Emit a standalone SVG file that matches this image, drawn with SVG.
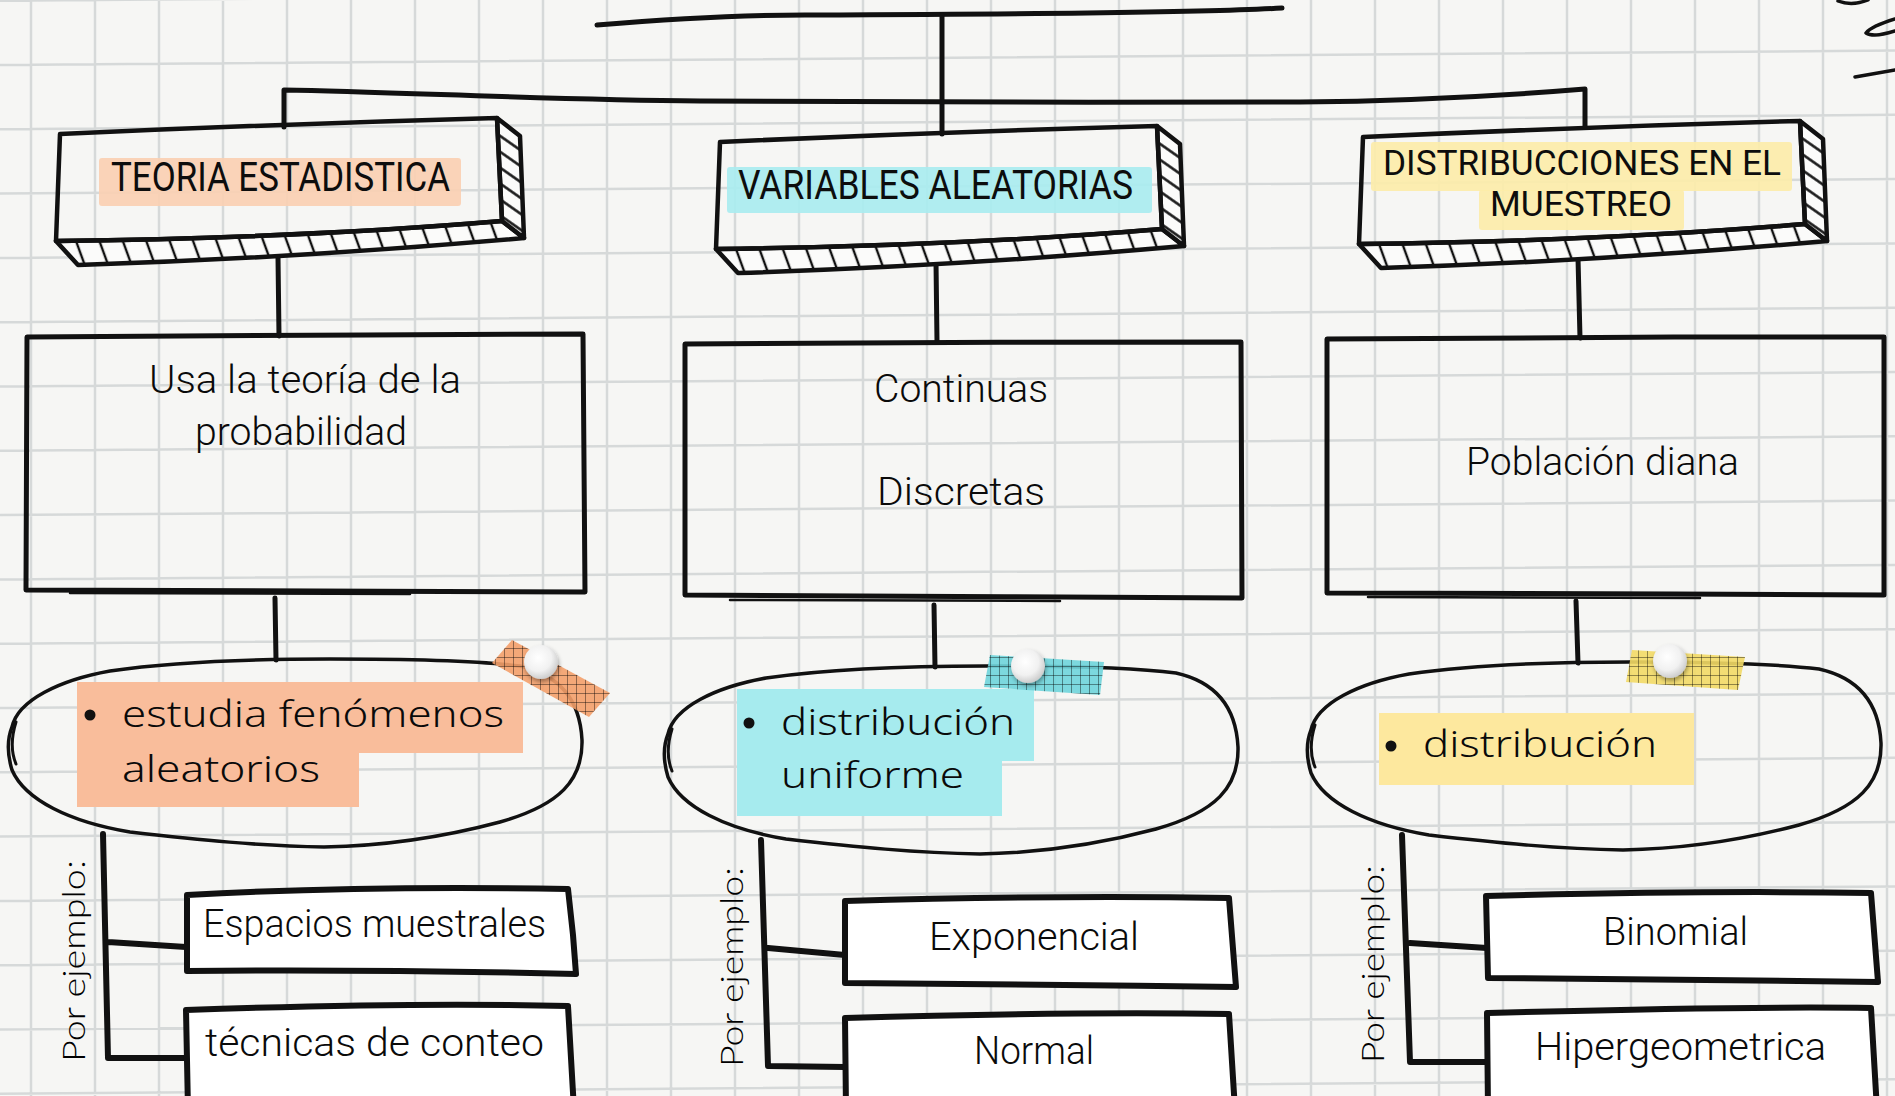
<svg xmlns="http://www.w3.org/2000/svg" xmlns:xlink="http://www.w3.org/1999/xlink" width="1895" height="1096" viewBox="0 0 1895 1096">
<style>
.ink{fill:none;stroke:#111;stroke-linecap:round;stroke-linejoin:round}
.head{font-family:Roboto,"Liberation Sans",sans-serif;font-weight:400;font-size:40px;fill:#0d0d0d}
.head2{font-family:Roboto,"Liberation Sans",sans-serif;font-weight:400;font-size:35px;fill:#0d0d0d}
.body{font-family:Roboto,"Liberation Sans",sans-serif;font-weight:300;font-size:38px;fill:#0a0a0a}
.hand{font-family:"Noto Sans","DejaVu Sans",sans-serif;font-weight:300;font-size:36px;fill:#0a0a0a}
.por{font-family:Lato,"Noto Sans",sans-serif;font-weight:300;font-size:32px;fill:#000}
.ex{fill:#fff;stroke:#111;stroke-width:6;stroke-linejoin:round}
.big{fill:none;stroke:#111;stroke-width:5;stroke-linejoin:round}
</style>
<defs>
<pattern id="hatchB" patternUnits="userSpaceOnUse" width="22" height="60" patternTransform="rotate(-20)">
<rect width="22" height="60" fill="#fbfbfa"/>
<line x1="11" y1="-5" x2="11" y2="65" stroke="#111" stroke-width="2.4"/>
</pattern>
<pattern id="hatchR" patternUnits="userSpaceOnUse" width="60" height="13" patternTransform="rotate(35)">
<rect width="60" height="13" fill="#fbfbfa"/>
<line x1="-5" y1="6.5" x2="65" y2="6.5" stroke="#111" stroke-width="2.3"/>
</pattern>
<pattern id="tapegrid" patternUnits="userSpaceOnUse" width="9" height="9">
<path d="M0,0.5H9M0.5,0V9" stroke="#000" stroke-opacity="0.45" stroke-width="0.9" fill="none"/>
</pattern>
<radialGradient id="pinG" cx="0.42" cy="0.38" r="0.65">
<stop offset="0" stop-color="#ffffff"/>
<stop offset="0.6" stop-color="#f1f1f1"/>
<stop offset="1" stop-color="#c9c9c9"/>
</radialGradient>
<filter id="sh" x="-50%" y="-50%" width="200%" height="200%">
<feDropShadow dx="1" dy="3" stdDeviation="2" flood-color="#000" flood-opacity="0.35"/>
</filter>
<g id="slab">
<path d="M56,241 Q300,238 502,221 L524,238 Q300,258 78,265 Z" fill="url(#hatchB)" stroke="#111" stroke-width="4.5" stroke-linejoin="round"/>
<path d="M497,118 L520,136 L524,238 L502,221 Z" fill="url(#hatchR)" stroke="#111" stroke-width="4.5" stroke-linejoin="round"/>
<path d="M60,134 Q280,124 497,118 L502,221 Q300,238 56,241 Z" class="ink" stroke-width="4.5"/>
</g>
<g id="oval">
<path d="M12,727 C18,700 60,680 110,671 C180,661 260,659 330,659 C420,659 480,661 520,666 C560,675 580,700 582,740 C583,780 560,805 500,822 C440,838 380,846 324,847 C260,846 200,840 130,832 C70,822 25,800 12,770 C6,750 8,737 12,727 Z" class="ink" stroke-width="3.5"/>
<path d="M16,722 C11,738 11,752 16,764" class="ink" stroke-width="3"/>
</g>
</defs>

<rect width="1895" height="1096" fill="#f6f6f4"/>
<path id="grid" fill="none" stroke="#d6d9d9" stroke-width="2.5" d="M31,0V1096M95,0V1096M159,0V1096M223,0V1096M287,0V1096M351,0V1096M415,0V1096M479,0V1096M543,0V1096M607,0V1096M671,0V1096M735,0V1096M799,0V1096M863,0V1096M927,0V1096M991,0V1096M1055,0V1096M1119,0V1096M1183,0V1096M1247,0V1096M1311,0V1096M1375,0V1096M1439,0V1096M1503,0V1096M1567,0V1096M1631,0V1096M1695,0V1096M1759,0V1096M1823,0V1096M1887,0V1096
M0,0.7L1895,-13.8M0,65L1895,50.5M0,129.3L1895,114.8M0,193.6L1895,179.1M0,257.9L1895,243.4M0,322.2L1895,307.7M0,386.5L1895,372M0,450.8L1895,436.3M0,515.1L1895,500.6M0,579.4L1895,564.9M0,643.7L1895,629.2M0,708L1895,693.5M0,772.3L1895,757.8M0,836.6L1895,822.1M0,900.9L1895,886.4M0,965.2L1895,950.7M0,1029.5L1895,1015M0,1093.8L1895,1079.3"/>

<g id="scribbles" class="ink" stroke-width="3.5">
<path d="M1838,1 C1848,5 1858,4 1868,0"/>
<path d="M1895,19 C1882,23 1870,28 1866,33 C1872,37 1886,34 1895,31"/>
<path d="M1855,77 L1895,70"/>
</g>

<g id="connectors" class="ink" stroke-width="5">
<path d="M597,25 C680,18 740,15 805,15 C1000,14 1200,13 1282,8"/>
<path d="M942,15 L942,134"/>
<path d="M284,127 L284,90 C400,92 550,100 700,101 C850,103 1100,102 1300,102 C1400,101 1500,96 1585,89 L1585,127"/>
<path d="M278,257 L279,336"/>
<path d="M936,262 L937,342"/>
<path d="M1578,258 L1580,338"/>
<path d="M275,598 L276,660"/>
<path d="M934,605 L935,667"/>
<path d="M1576,601 L1578,663"/>
<path d="M103,834 L108,1058 L186,1058 M108,942 L186,947" stroke-width="6"/>
<path d="M761,840 L768,1066 L845,1067 M768,948 L845,955" stroke-width="6"/>
<path d="M1402,835 L1410,1062 L1487,1062 M1410,943 L1487,948" stroke-width="6"/>
</g>

<g id="teoria">
<use href="#slab" xlink:href="#slab"/>
<rect x="99" y="158" width="362" height="48" rx="3" fill="#fbcfb1" fill-opacity="0.9"/>
<text class="head" x="111" y="191" textLength="339" lengthAdjust="spacingAndGlyphs">TEORIA ESTADISTICA</text>
</g>
<g id="variables">
<use href="#slab" xlink:href="#slab" transform="translate(660,8)"/>
<rect x="727" y="167" width="425" height="46" rx="3" fill="#a9ecef" fill-opacity="0.9"/>
<text class="head" x="738" y="199" textLength="395" lengthAdjust="spacingAndGlyphs">VARIABLES ALEATORIAS</text>
</g>
<g id="distribucciones">
<use href="#slab" xlink:href="#slab" transform="translate(1303,3)"/>
<rect x="1371" y="142" width="421" height="49" rx="3" fill="#fdeca8" fill-opacity="0.9"/>
<rect x="1479" y="190" width="205" height="40" rx="3" fill="#fdeca8" fill-opacity="0.9"/>
<text class="head2" x="1383" y="175" textLength="398" lengthAdjust="spacingAndGlyphs">DISTRIBUCCIONES EN EL</text>
<text class="head2" x="1490" y="216" textLength="182" lengthAdjust="spacingAndGlyphs">MUESTREO</text>
</g>

<g id="rect-teoria">
<path class="big" d="M27,337 C200,335 400,335 583,334 L585,592 C400,591 200,591 26,590 Z"/>
<path class="ink" stroke-width="2.5" d="M70,593 L410,594"/>
<text class="body" x="149" y="393" textLength="312" lengthAdjust="spacingAndGlyphs">Usa la teoría de la</text>
<text class="body" x="195" y="445" textLength="212" lengthAdjust="spacingAndGlyphs">probabilidad</text>
</g>
<g id="rect-variables">
<path class="big" d="M685,344 C860,342 1060,342 1241,342 L1242,598 C1060,597 860,596 685,595 Z"/>
<path class="ink" stroke-width="2.5" d="M730,600 L1060,601"/>
<text class="body" x="874" y="402" textLength="174" lengthAdjust="spacingAndGlyphs">Continuas</text>
<text class="body" x="877" y="505" textLength="168" lengthAdjust="spacingAndGlyphs">Discretas</text>
</g>
<g id="rect-distrib">
<path class="big" d="M1327,339 C1500,337 1700,337 1884,337 L1884,595 C1700,594 1500,593 1327,593 Z"/>
<path class="ink" stroke-width="2.5" d="M1368,597 L1700,598"/>
<text class="body" x="1466" y="475" textLength="273" lengthAdjust="spacingAndGlyphs">Población diana</text>
</g>

<g id="oval-teoria">
<use href="#oval" xlink:href="#oval"/>
<path d="M77,682 H523 V753 H359 V807 H77 Z" fill="#f9bd9b"/>
<circle cx="90" cy="715" r="5.5" fill="#111"/>
<text class="hand" x="122" y="727" textLength="382" lengthAdjust="spacingAndGlyphs">estudia fenómenos</text>
<text class="hand" x="122" y="782" textLength="198" lengthAdjust="spacingAndGlyphs">aleatorios</text>
<polygon points="512,640 492,663 589,717 610,693" fill="#f4a06a" fill-opacity="0.9"/>
<polygon points="512,640 492,663 589,717 610,693" fill="url(#tapegrid)"/>
<circle cx="541" cy="662" r="17" fill="url(#pinG)" filter="url(#sh)"/>
</g>
<g id="oval-variables">
<use href="#oval" xlink:href="#oval" transform="translate(656,7)"/>
<path d="M737,689 H1034 V761 H1002 V816 H737 Z" fill="#a6ebee"/>
<circle cx="749" cy="723" r="5.5" fill="#111"/>
<text class="hand" x="781" y="735" textLength="234" lengthAdjust="spacingAndGlyphs">distribución</text>
<text class="hand" x="781" y="788" textLength="183" lengthAdjust="spacingAndGlyphs">uniforme</text>
<polygon points="990,655 984,687 1100,695 1104,662" fill="#6fd5db" fill-opacity="0.9"/>
<polygon points="990,655 984,687 1100,695 1104,662" fill="url(#tapegrid)"/>
<circle cx="1028" cy="666" r="17" fill="url(#pinG)" filter="url(#sh)"/>
</g>
<g id="oval-distrib">
<use href="#oval" xlink:href="#oval" transform="translate(1299,3)"/>
<rect x="1379" y="713" width="315" height="72" fill="#fde89e"/>
<circle cx="1391" cy="746" r="5.5" fill="#111"/>
<text class="hand" x="1423" y="757" textLength="234" lengthAdjust="spacingAndGlyphs">distribución</text>
<polygon points="1632,650 1626,682 1738,690 1745,657" fill="#f3da66" fill-opacity="0.9"/>
<polygon points="1632,650 1626,682 1738,690 1745,657" fill="url(#tapegrid)"/>
<circle cx="1670" cy="661" r="17" fill="url(#pinG)" filter="url(#sh)"/>
</g>

<g id="por-1"><text class="por" transform="translate(85,1062) rotate(-90)" textLength="202" lengthAdjust="spacingAndGlyphs">Por ejemplo:</text></g>
<g id="por-2"><text class="por" transform="translate(743,1067) rotate(-90)" textLength="200" lengthAdjust="spacingAndGlyphs">Por ejemplo:</text></g>
<g id="por-3"><text class="por" transform="translate(1384,1063) rotate(-90)" textLength="198" lengthAdjust="spacingAndGlyphs">Por ejemplo:</text></g>

<g id="ex-espacios">
<path class="ex" d="M187,895 C260,891 400,886 568,889 L573,935 L576,974 C450,971 300,970 187,971 Z"/>
<text class="body" x="203" y="937" textLength="343" lengthAdjust="spacingAndGlyphs">Espacios muestrales</text>
</g>
<g id="ex-tecnicas">
<path class="ex" d="M186,1010 C300,1006 450,1003 568,1006 L574,1110 L188,1110 Z"/>
<text class="body" x="205" y="1056" textLength="339" lengthAdjust="spacingAndGlyphs">técnicas de conteo</text>
</g>
<g id="ex-exponencial">
<path class="ex" d="M845,901 C950,898 1100,896 1229,898 L1236,987 C1100,985 950,984 845,983 Z"/>
<text class="body" x="929" y="950" textLength="210" lengthAdjust="spacingAndGlyphs">Exponencial</text>
</g>
<g id="ex-normal">
<path class="ex" d="M845,1018 C950,1015 1100,1012 1229,1014 L1235,1110 L846,1110 Z"/>
<text class="body" x="974" y="1064" textLength="120" lengthAdjust="spacingAndGlyphs">Normal</text>
</g>
<g id="ex-binomial">
<path class="ex" d="M1486,896 C1600,893 1750,891 1871,893 L1878,982 C1750,980 1600,979 1488,978 Z"/>
<text class="body" x="1603" y="945" textLength="145" lengthAdjust="spacingAndGlyphs">Binomial</text>
</g>
<g id="ex-hiper">
<path class="ex" d="M1487,1013 C1600,1010 1750,1006 1871,1008 L1877,1110 L1488,1110 Z"/>
<text class="body" x="1535" y="1060" textLength="291" lengthAdjust="spacingAndGlyphs">Hipergeometrica</text>
</g>
</svg>
